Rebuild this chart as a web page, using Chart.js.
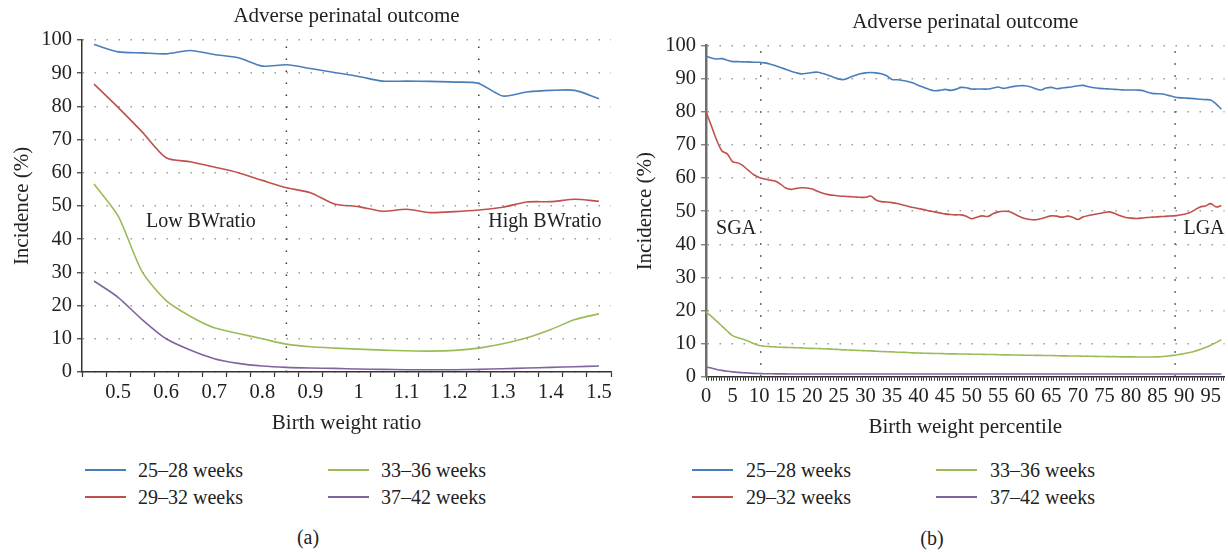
<!DOCTYPE html>
<html>
<head>
<meta charset="utf-8">
<script src="https://cdn.jsdelivr.net/npm/chart.js@4"></script>
<style>
  html, body { margin: 0; padding: 0; background: #fff; }
  #wrap { position: relative; width: 1228px; height: 552px; background: #fff; overflow: hidden;
          font-family: "Liberation Serif", "DejaVu Serif", serif; color: #222; }
  .cv { position: absolute; top: 0; }
  .lg-item { position: absolute; height: 24px; font-size: 20px; line-height: 24px; white-space: nowrap; }
  .lg-line { position: absolute; top: 11px; height: 2px; width: 41px; }
  .lg-text { position: absolute; top: 0; }
  .cap { position: absolute; font-size: 20px; line-height: 24px; transform: translateX(-50%); }
</style>
</head>
<body>
<div id="wrap">
  <canvas id="ca" class="cv" width="620" height="440" style="left:0px"></canvas>
  <canvas id="cb" class="cv" width="608" height="440" style="left:620px"></canvas>
  <div id="legA"></div>
  <div id="legB"></div>
  <div class="cap" style="left:308px; top:525px">(a)</div>
  <div class="cap" style="left:932px; top:526px">(b)</div>
</div>
<script>
// ---------- DATA ----------
const seriesNames = ['25–28 weeks', '29–32 weeks', '33–36 weeks', '37–42 weeks'];
const seriesColors = ['#4a7ebb', '#c0504d', '#9bbb59', '#8064a2'];

// Panel (a): birth weight ratio categories
const ratioCategories = ['0.45','0.5','0.55','0.6','0.65','0.7','0.75','0.8','0.85','0.9','0.95','1',
                         '1.05','1.1','1.15','1.2','1.25','1.3','1.35','1.4','1.45','1.5'];
const ratioTickLabels = ['0.5','0.6','0.7','0.8','0.9','1','1.1','1.2','1.3','1.4','1.5'];
const ratioW25_28 = [98.6, 96.4, 96.1, 95.8, 96.8, 95.6, 94.6, 92.1, 92.5, 91.4, 90.2, 89.0,
                     87.6, 87.6, 87.5, 87.3, 86.9, 83.1, 84.3, 84.8, 84.8, 82.3];
const ratioW29_32 = [86.7, 79.7, 72.3, 64.5, 63.3, 61.7, 60.0, 57.7, 55.5, 54.0, 50.6, 49.8,
                     48.4, 49.0, 48.0, 48.3, 48.8, 49.6, 51.2, 51.3, 52.0, 51.4];
const ratioW33_36 = [56.6, 47.0, 30.2, 21.5, 16.8, 13.3, 11.6, 10.0, 8.4, 7.6, 7.2, 6.9,
                     6.6, 6.4, 6.3, 6.5, 7.2, 8.5, 10.3, 12.8, 15.8, 17.5];
const ratioW37_42 = [27.4, 22.5, 15.8, 10.0, 6.6, 4.0, 2.6, 1.8, 1.4, 1.2, 1.1, 0.9,
                     0.8, 0.7, 0.7, 0.7, 0.8, 1.0, 1.2, 1.4, 1.6, 1.8];
const ratioCutoffs = ['0.85', '1.25'];

// Panel (b): birth weight percentile
const percentiles = [0,1,2,3,4,5,6,7,8,9,10,11,12,13,14,15,16,17,18,19,20,21,22,23,24,25,26,27,28,29,
  30,31,32,33,34,35,36,37,38,39,40,41,42,43,44,45,46,47,48,49,50,51,52,53,54,55,56,57,58,59,
  60,61,62,63,64,65,66,67,68,69,70,71,72,73,74,75,76,77,78,79,80,81,82,83,84,85,86,87,88,89,
  90,91,92,93,94,95,96,97];
const percentileTickLabels = [0,5,10,15,20,25,30,35,40,45,50,55,60,65,70,75,80,85,90,95];
const pctW25_28 = [96.8, 96.3, 96.0, 96.1, 95.6, 95.2, 95.2, 95.1, 95.1, 95.0,
  95.0, 94.8, 94.5, 94.0, 93.4, 92.9, 92.3, 91.8, 91.5, 91.7,
  91.9, 92.0, 91.6, 91.1, 90.5, 89.9, 89.8, 90.4, 91.0, 91.5,
  91.8, 91.9, 91.8, 91.5, 90.9, 89.8, 89.7, 89.5, 89.2, 88.7,
  88.0, 87.4, 86.8, 86.4, 86.5, 86.8, 86.5, 86.8, 87.4, 87.3,
  86.9, 86.9, 86.9, 86.9, 87.2, 87.5, 87.1, 87.4, 87.7, 87.9,
  87.9, 87.6, 87.0, 86.6, 87.2, 87.4, 87.0, 87.2, 87.4, 87.6,
  87.9, 88.0, 87.6, 87.3, 87.1, 87.0, 86.9, 86.8, 86.7, 86.6,
  86.6, 86.6, 86.5, 86.0, 85.6, 85.5, 85.4, 85.0, 84.6, 84.3,
  84.2, 84.1, 84.0, 83.8, 83.7, 83.6, 82.4, 80.8];
const pctW29_32 = [80.1, 75.8, 71.5, 68.2, 67.3, 65.0, 64.6, 63.7, 62.3, 61.0,
  60.2, 59.7, 59.4, 59.1, 58.2, 57.0, 56.6, 56.9, 57.1, 57.0,
  56.7, 56.0, 55.4, 55.0, 54.8, 54.6, 54.5, 54.4, 54.3, 54.2,
  54.2, 54.6, 53.4, 52.9, 52.8, 52.6, 52.3, 51.9, 51.5, 51.1,
  50.8, 50.5, 50.1, 49.8, 49.5, 49.2, 49.0, 48.9, 48.9, 48.5,
  47.7, 48.2, 48.6, 48.4, 49.2, 49.8, 50.0, 49.9, 49.2, 48.4,
  47.8, 47.5, 47.4, 47.7, 48.2, 48.6, 48.5, 48.2, 48.5, 48.2,
  47.5, 48.3, 48.7, 49.0, 49.3, 49.6, 49.8, 49.3, 48.6, 48.1,
  47.9, 47.8, 47.9, 48.1, 48.2, 48.3, 48.4, 48.5, 48.6, 48.8,
  49.1, 49.5, 50.4, 51.3, 51.6, 52.3, 51.3, 51.7];
const pctW33_36 = [19.6, 18.2, 16.8, 15.3, 13.8, 12.4, 11.8, 11.3, 10.7, 10.0,
  9.4, 9.2, 9.1, 9.0, 8.9, 8.85, 8.8, 8.75, 8.7, 8.6,
  8.55, 8.5, 8.45, 8.4, 8.3, 8.2, 8.1, 8.05, 8.0, 7.9,
  7.85, 7.8, 7.7, 7.6, 7.55, 7.5, 7.4, 7.35, 7.3, 7.2,
  7.15, 7.1, 7.05, 7.0, 7.0, 6.95, 6.9, 6.9, 6.85, 6.85,
  6.8, 6.8, 6.75, 6.7, 6.7, 6.65, 6.6, 6.6, 6.55, 6.55,
  6.5, 6.5, 6.45, 6.45, 6.4, 6.4, 6.35, 6.3, 6.3, 6.25,
  6.25, 6.2, 6.2, 6.15, 6.1, 6.1, 6.05, 6.05, 6.0, 6.0,
  6.0, 5.95, 5.95, 5.95, 5.95, 6.0, 6.1, 6.25, 6.45, 6.7,
  7.0, 7.3, 7.7, 8.2, 8.8, 9.5, 10.3, 11.2];
const pctW37_42 = [3.0, 2.6, 2.2, 1.9, 1.65, 1.45, 1.3, 1.2, 1.1, 1.0,
  0.95, 0.9, 0.9, 0.85, 0.85, 0.85, 0.8, 0.8, 0.8, 0.8,
  0.8, 0.8, 0.8, 0.8, 0.8, 0.8, 0.8, 0.8, 0.8, 0.8,
  0.8, 0.8, 0.8, 0.8, 0.8, 0.8, 0.8, 0.8, 0.8, 0.8,
  0.8, 0.8, 0.8, 0.8, 0.8, 0.8, 0.8, 0.8, 0.8, 0.8,
  0.8, 0.8, 0.8, 0.8, 0.8, 0.8, 0.8, 0.8, 0.8, 0.8,
  0.8, 0.8, 0.8, 0.8, 0.8, 0.8, 0.8, 0.8, 0.8, 0.8,
  0.8, 0.8, 0.8, 0.8, 0.8, 0.8, 0.8, 0.8, 0.8, 0.8,
  0.8, 0.8, 0.8, 0.8, 0.8, 0.8, 0.8, 0.8, 0.8, 0.8,
  0.8, 0.8, 0.8, 0.8, 0.8, 0.8, 0.8, 0.8];
const percentileCutoffs = [10.3, 88.3];

// ---------- RENDER ----------
const SERIF = '"Liberation Serif", "DejaVu Serif", serif';
const TXT = '#222';

const textLabels = {
  id: 'textLabels',
  afterDatasetsDraw(chart, args, opts) {
    const {ctx, scales: {x, y}} = chart;
    ctx.save();
    ctx.font = '20px ' + SERIF;
    ctx.fillStyle = TXT;
    ctx.textBaseline = 'middle';
    for (const a of (opts.items || [])) {
      ctx.textAlign = a.align;
      ctx.fillText(a.text, x.getPixelForValue(a.x), y.getPixelForValue(a.y));
    }
    ctx.restore();
  }
};
Chart.register(textLabels);

function seriesSets(arrays, tension) {
  return arrays.map((arr, i) => ({
    label: seriesNames[i], data: arr, borderColor: seriesColors[i], backgroundColor: seriesColors[i],
    borderWidth: 1.6, pointRadius: 0, tension: tension, fill: false
  }));
}
function cutoffSets(values) {
  return values.map(v => ({
    label: 'cutoff', data: [{x: v, y: 0}, {x: v, y: 100}],
    borderColor: '#3a3a3a', borderWidth: 1.5, borderDash: [1.5, 10.5],
    pointRadius: 0, tension: 0, fill: false
  }));
}
const font = (s) => ({family: SERIF, size: s, weight: 'normal'});

function commonY(width, titlePadTop, borderColor, borderWidth) {
  return {
    min: 0, max: 100,
    ticks: {stepSize: 10, padding: 5, color: TXT, font: font(20.5)},
    grid: {color: '#9a9a9a', lineWidth: 1.5, tickLength: 5, tickColor: borderColor, tickWidth: 1.2},
    border: {color: borderColor, width: borderWidth, dash: [1.5, 10.5]},
    title: {display: true, text: 'Incidence (%)', color: TXT, font: font(21), padding: {top: titlePadTop, bottom: 0}},
    afterFit: (s) => { s.width = width; }
  };
}

// Panel (a)
new Chart(document.getElementById('ca'), {
  type: 'line',
  data: {
    labels: ratioCategories,
    datasets: [...seriesSets([ratioW25_28, ratioW29_32, ratioW33_36, ratioW37_42], 0.25), ...cutoffSets(ratioCutoffs)]
  },
  options: {
    responsive: false, animation: false, devicePixelRatio: 1,
    layout: {padding: {top: 0, right: 9, bottom: 0, left: 0}},
    plugins: {
      legend: {display: false}, tooltip: {enabled: false},
      title: {display: true, fullSize: false, text: 'Adverse perinatal outcome', color: TXT, font: font(21),
              padding: {top: 4, bottom: 10.7}},
      textLabels: {items: [
        {text: 'Low BWratio', x: 2.16, y: 45.3, align: 'left'},
        {text: 'High BWratio', x: 16.4, y: 45.3, align: 'left'}
      ]}
    },
    scales: {
      x: {
        type: 'category', offset: true,
        grid: {offset: true, drawOnChartArea: false, drawTicks: true, tickLength: 5, tickColor: '#333', tickWidth: 1.2},
        border: {color: '#333', width: 1.5},
        ticks: {autoSkip: false, maxRotation: 0, minRotation: 0, padding: 3, color: TXT, font: font(20.5),
          callback: function (v) { const l = this.getLabelForValue(v); return ratioTickLabels.includes(l) ? l : ''; }},
        title: {display: true, text: 'Birth weight ratio', color: TXT, font: font(21), padding: {top: 0, bottom: 4}},
        afterFit: (s) => { s.height = 68; }
      },
      y: commonY(82, 9.4, '#333', 1.5)
    }
  }
});

// Panel (b)
new Chart(document.getElementById('cb'), {
  type: 'line',
  data: {
    labels: percentiles,
    datasets: [...seriesSets([pctW25_28, pctW29_32, pctW33_36, pctW37_42], 0.3), ...cutoffSets(percentileCutoffs)]
  },
  options: {
    responsive: false, animation: false, devicePixelRatio: 1,
    layout: {padding: {top: 0, right: 1, bottom: 0, left: 0}},
    plugins: {
      legend: {display: false}, tooltip: {enabled: false},
      title: {display: true, fullSize: false, text: 'Adverse perinatal outcome', color: TXT, font: font(21),
              padding: {top: 10.1, bottom: 10.4}},
      textLabels: {items: [
        {text: 'SGA', x: 1.9, y: 44.8, align: 'left'},
        {text: 'LGA', x: 97.6, y: 44.8, align: 'right'}
      ]}
    },
    scales: {
      x: {
        type: 'linear', min: 0, max: 97.6,
        // minor tick marks every half percentile
        afterBuildTicks: (s) => { s.ticks = percentiles.flatMap(v => [{value: v}, {value: v + 0.5}]); },
        grid: {drawOnChartArea: false, drawTicks: true, tickLength: 4, tickColor: '#333', tickWidth: 1},
        border: {color: '#333', width: 1.5},
        ticks: {autoSkip: false, maxRotation: 0, minRotation: 0, padding: 4, color: TXT, font: font(20.5),
          callback: (v) => percentileTickLabels.includes(v) ? String(v) : ''},
        title: {display: true, text: 'Birth weight percentile', color: TXT, font: font(21), padding: {top: 0, bottom: 0}},
        afterFit: (s) => { s.height = 63.3; }
      },
      y: commonY(86, 13, '#6e6e6e', 2.5)
    }
  }
});

// HTML legends built from the series definitions
function buildLegend(el, left1, left2, top1, top2, textOffset) {
  const pos = [[left1, top1], [left1, top2], [left2, top1], [left2, top2]];
  seriesNames.forEach((name, i) => {
    const item = document.createElement('div');
    item.className = 'lg-item';
    item.style.left = pos[i][0] + 'px';
    item.style.top = pos[i][1] + 'px';
    const line = document.createElement('div');
    line.className = 'lg-line';
    line.style.left = '0px';
    line.style.background = seriesColors[i];
    const t = document.createElement('div');
    t.className = 'lg-text';
    t.style.left = textOffset + 'px';
    t.textContent = name;
    item.appendChild(line); item.appendChild(t);
    el.appendChild(item);
  });
}
buildLegend(document.getElementById('legA'), 85, 328, 458, 485, 53);
buildLegend(document.getElementById('legB'), 692, 936, 458, 485, 54);
</script>
</body>
</html>
